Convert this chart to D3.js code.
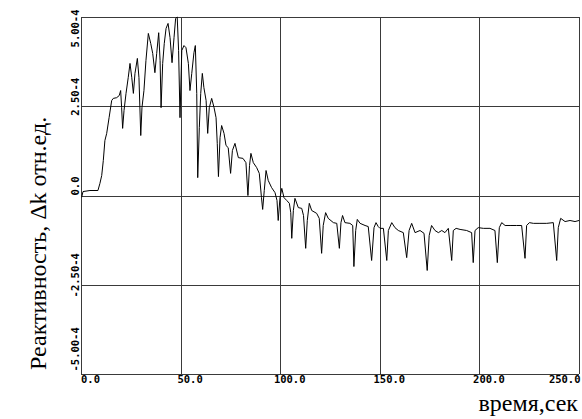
<!DOCTYPE html>
<html><head><meta charset="utf-8">
<script src="https://cdn.jsdelivr.net/npm/d3@7"></script>
<style>body{margin:0;background:#fff}svg{display:block}</style>
</head><body>
<svg id="c" width="582" height="419"></svg>
<script>
// time, s
const timeSec = [0.35,1.0,4.5,8.5,9.5,10.4,11.2,12.0,12.9,14.1,15.4,16.2,17.9,19.2,19.9,20.4,20.9,21.6,22.6,23.7,
24.6,25.5,26.3,27.1,28.3,29.1,30.0,30.6,31.6,32.6,33.8,35.0,36.0,37.1,38.0,39.0,39.7,40.2,41.0,41.8,
42.7,43.7,44.7,45.7,46.7,47.5,48.3,49.0,49.7,50.6,51.7,52.7,53.9,54.7,55.6,56.7,57.4,58.1,58.6,59.4,
60.1,60.9,61.7,62.8,63.6,64.4,65.6,66.8,67.8,68.4,69.0,69.8,70.6,71.8,72.8,73.9,75.1,76.0,77.3,79.0,
81.3,82.8,83.8,84.6,85.3,86.5,88.2,89.5,90.6,91.2,92.0,92.9,94.0,95.7,97.4,98.4,99.0,99.9,100.8,101.9,
103.3,104.6,105.3,105.8,106.6,107.4,109.1,110.8,111.7,112.8,113.6,114.6,115.8,118.3,119.6,120.8,121.6,122.8,124.1,126.7,
128.4,129.7,130.5,131.3,132.5,135.0,136.4,137.0,137.9,138.7,140.1,142.6,144.2,145.9,147.1,148.1,149.2,150.1,151.8,153.5,
154.3,156.0,157.6,159.3,161.8,163.5,164.7,166.0,167.7,170.2,172.2,173.8,174.8,176.0,177.7,179.4,181.1,182.7,184.4,186.1,
186.9,188.3,190.3,193.6,196.1,196.9,197.8,199.4,202.0,205.3,207.8,209.0,210.0,211.2,212.9,215.4,218.7,221.2,222.9,223.7,
225.1,227.1,230.4,233.8,237.1,238.8,239.6,240.8,243.0,245.5,248.0,250.0];
// reactivity, units of 1e-4
const reactivity = [-0.05,0.11,0.14,0.14,0.34,0.56,0.98,1.54,1.74,2.18,2.66,2.72,2.74,2.80,2.94,2.46,1.88,2.38,2.86,3.30,
3.70,3.30,2.86,3.42,3.84,3.30,1.68,2.46,2.94,3.78,4.54,4.26,3.98,3.44,3.98,4.56,3.78,2.46,3.70,4.26,
4.68,4.82,4.42,3.72,4.42,4.96,5.00,4.06,2.18,4.06,4.20,4.14,3.70,2.94,3.42,4.00,4.20,2.86,0.50,1.90,
2.86,3.42,3.02,2.66,1.74,2.46,2.72,2.46,2.18,1.46,0.53,1.62,1.96,1.74,1.40,1.34,0.62,1.26,1.46,1.06,
1.04,0.92,0.00,0.84,1.18,0.92,0.78,0.62,-0.06,-0.39,0.14,0.70,0.42,0.22,0.08,-0.14,-0.70,-0.06,0.20,-0.06,
-0.14,-0.22,-0.48,-1.20,-0.42,-0.08,-0.34,-0.36,-0.56,-1.48,-0.70,-0.22,-0.42,-0.50,-0.64,-1.62,-0.84,-0.48,-0.64,-0.76,
-0.78,-1.48,-0.76,-0.56,-0.76,-0.78,-0.84,-1.99,-0.98,-0.67,-0.78,-0.84,-0.87,-1.82,-0.90,-0.76,-0.87,-0.92,-0.92,-1.82,
-0.98,-0.76,-0.90,-0.98,-1.04,-1.74,-0.98,-0.78,-1.04,-0.98,-1.06,-2.10,-1.12,-0.84,-0.98,-1.04,-0.98,-1.04,-0.92,-1.82,
-0.98,-0.92,-0.95,-0.98,-1.04,-1.88,-0.98,-0.90,-0.92,-0.92,-0.98,-1.88,-0.90,-0.76,-0.84,-0.84,-0.84,-0.84,-1.76,-0.84,
-0.76,-0.78,-0.78,-0.78,-0.76,-1.82,-0.90,-0.64,-0.73,-0.70,-0.73,-0.70];

const xTicks = [0,50,100,150,200,250];
const xTickLabels = ["0.0","50.0","100.0","150.0","200.0","250.0"];
const yTicks = [-5,-2.5,0,2.5,5];
const yTickLabels = ["-5.00-4","-2.50-4","0.0","2.50-4","5.00-4"];
const xTitle = "время,сек";
const yTitle = "Реактивность, Δk отн.ед.";

const L=81, R=579, T=17, B=374;
const svg = d3.select('#c');
const x = d3.scaleLinear().domain([0,250]).range([L,R]);
const y = d3.scaleLinear().domain([-5,5]).range([B,T]);

// vertical gridlines + x labels
const gx = svg.append('g').attr('transform',`translate(0,${B})`)
  .call(d3.axisBottom(x).tickValues(xTicks).tickSize(-(B-T)).tickSizeOuter(0)
  .tickFormat((d,i)=>xTickLabels[i]));
gx.select('.domain').remove();
gx.selectAll('.tick line').attr('stroke','#3a3a3a').attr('stroke-width',1).attr('shape-rendering','crispEdges');
gx.selectAll('.tick text')
  .attr('font-family','DejaVu Sans Mono').attr('font-weight','bold').attr('font-size','10.5px')
  .attr('fill','#000').attr('text-anchor','middle').attr('y',2).attr('dy','0.71em')
  .each(function(d){
    const w=this.getComputedTextLength();
    let cx = 9; // offset of label centre from tick
    const tx = x(d);
    if (tx+cx+w/2 > R+1) cx = R+1-w/2-tx;
    d3.select(this).attr('x',cx);
  });

// horizontal gridlines + y labels
const gy = svg.append('g').attr('transform',`translate(${L},0)`)
  .call(d3.axisLeft(y).tickValues(yTicks).tickSize(-(R-L)).tickSizeOuter(0)
  .tickFormat((d,i)=>yTickLabels[i]));
gy.select('.domain').remove();
gy.selectAll('.tick line').attr('stroke','#3a3a3a').attr('stroke-width',1).attr('shape-rendering','crispEdges');
gy.selectAll('.tick text')
  .attr('font-family','DejaVu Sans Mono').attr('font-weight','bold').attr('font-size','10.5px')
  .attr('fill','#000').attr('text-anchor','middle').attr('dy',null)
  .each(function(d){
    const w=this.getComputedTextLength();
    const ty=y(d);
    let c = ty-10;
    if (c - w/2 < 9) c = 9 + w/2;
    if (c + w/2 > 371) c = 371 - w/2;
    d3.select(this).attr('x',null).attr('y',null)
      .attr('transform',`translate(-2,${c-ty}) rotate(-90)`);
  });

// frame axes
svg.append('line').attr('x1',L).attr('x2',L).attr('y1',T).attr('y2',B)
  .attr('stroke','#3a3a3a').attr('shape-rendering','crispEdges');
svg.append('line').attr('x1',L).attr('x2',R).attr('y1',B).attr('y2',B)
  .attr('stroke','#3a3a3a').attr('shape-rendering','crispEdges');

// data line
const pts = timeSec.map((t,i)=>[t,reactivity[i]]);
svg.append('path').datum(pts)
  .attr('d', d3.line().x(d=>x(d[0])).y(d=>y(d[1])))
  .attr('fill','none').attr('stroke','#000').attr('stroke-width',1);

// titles
svg.append('text').text(xTitle)
  .attr('x',578).attr('y',411).attr('text-anchor','end')
  .attr('font-family','Liberation Serif').attr('font-size','24px').attr('fill','#000');
svg.append('text').text(yTitle)
  .attr('transform','translate(46,370) rotate(-90)').attr('text-anchor','start')
  .attr('font-family','Liberation Serif').attr('font-size','24px').attr('fill','#000');
</script>
</body></html>
